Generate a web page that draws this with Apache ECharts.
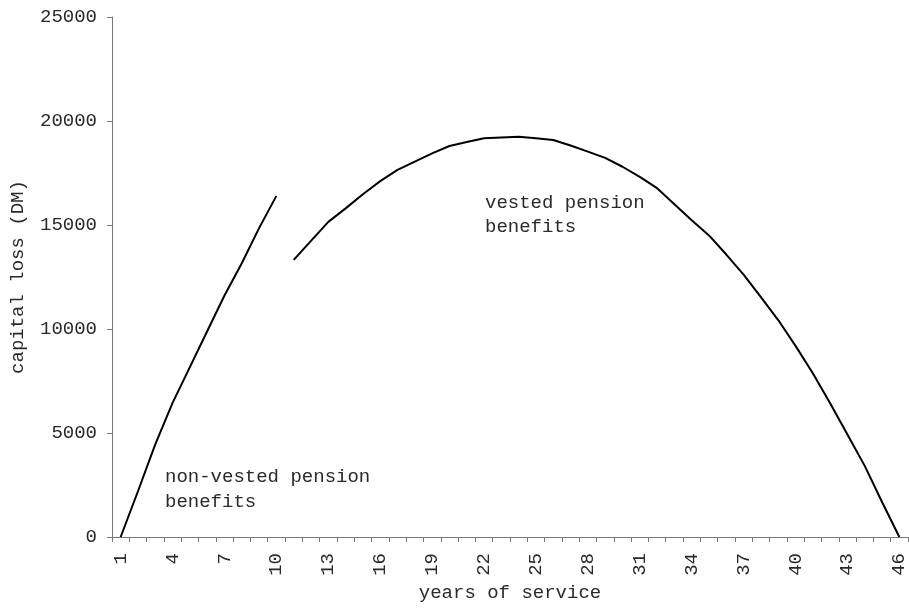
<!DOCTYPE html>
<html>
<head>
<meta charset="utf-8">
<title>capital loss</title>
<script src="https://cdn.jsdelivr.net/npm/echarts@6/dist/echarts.min.js"></script>
<style>
  html, body { margin: 0; padding: 0; background: #fff; }
  #chart { width: 909px; height: 610px; }
</style>
</head>
<body>
<div id="chart"></div>
<script>
// years of service (categories)
var years = ['1','2','3','4','5','6','7','8','9','10','11','12','13','14','15','16','17','18','19','20',
  '21','22','23','24','25','26','27','28','29','30','31','32','33','34','35','36','37','38','39','40',
  '41','42','43','44','45','46'];

// capital loss (DM), years 1-10
var nonVested = [0, 2200, 4450, 6450, 8170, 9890, 11610, 13160, 14850, 16400];

// capital loss (DM), years 11-46
var vested = [13320, 14240, 15150, 15800, 16480, 17110, 17650, 18050, 18440, 18800,
  18990, 19170, 19210, 19240, 19170, 19090, 18820, 18530, 18230, 17800,
  17310, 16770, 16000, 15230, 14500, 13580, 12610, 11530, 10430, 9190,
  7870, 6430, 4930, 3420, 1680, 0];

var yTicks = { min: 0, max: 25000, interval: 5000 };

var font = '"Liberation Mono", "Courier New", monospace';
var fontSize = 19;
var textColor = '#2a2a2a';
var axisColor = '#777';

// pad the vested series so it starts at year 11
var vestedData = [];
for (var i = 0; i < years.length - vested.length; i++) vestedData.push(null);
vestedData = vestedData.concat(vested);

var chart = echarts.init(document.getElementById('chart'));
chart.setOption({
  animation: false,
  backgroundColor: '#fff',
  textStyle: { fontFamily: font },
  grid: { left: 112, right: 1, top: 17, bottom: 73, containLabel: false, outerBoundsMode: 'none' },
  xAxis: {
    type: 'category',
    data: years,
    boundaryGap: true,
    name: 'years of service',
    nameLocation: 'middle',
    nameGap: 44,
    nameTextStyle: { fontFamily: font, fontSize: fontSize, color: textColor },
    axisLine: { lineStyle: { color: axisColor, width: 1 } },
    axisTick: { show: true, interval: 0, length: 5, lineStyle: { color: axisColor } },
    axisLabel: {
      interval: 2,
      rotate: 90,
      margin: 16,
      fontFamily: font,
      fontSize: fontSize,
      color: textColor
    },
    splitLine: { show: false }
  },
  yAxis: {
    type: 'value',
    min: yTicks.min,
    max: yTicks.max,
    interval: yTicks.interval,
    name: 'capital loss (DM)',
    nameLocation: 'middle',
    nameGap: 85,
    nameTextStyle: { fontFamily: font, fontSize: fontSize, color: textColor },
    axisLine: { show: true, lineStyle: { color: axisColor, width: 1 } },
    axisTick: { show: true, length: 5, lineStyle: { color: axisColor } },
    axisLabel: {
      margin: 15,
      fontFamily: font,
      fontSize: fontSize,
      color: textColor,
      formatter: function (v) { return String(v); }
    },
    splitLine: { show: false }
  },
  series: [
    {
      name: 'non-vested pension benefits',
      type: 'line',
      data: nonVested,
      showSymbol: false,
      symbol: 'none',
      lineStyle: { color: '#000', width: 2 }
    },
    {
      name: 'vested pension benefits',
      type: 'line',
      data: vestedData,
      showSymbol: false,
      symbol: 'none',
      connectNulls: false,
      lineStyle: { color: '#000', width: 2 }
    }
  ],
  graphic: [
    {
      type: 'text',
      left: 165,
      top: 464,
      style: {
        text: 'non-vested pension\nbenefits',
        font: fontSize + 'px ' + font,
        fill: textColor,
        lineHeight: 25
      }
    },
    {
      type: 'text',
      left: 485,
      top: 191,
      style: {
        text: 'vested pension\nbenefits',
        font: fontSize + 'px ' + font,
        fill: textColor,
        lineHeight: 24
      }
    }
  ]
});
</script>
</body>
</html>
